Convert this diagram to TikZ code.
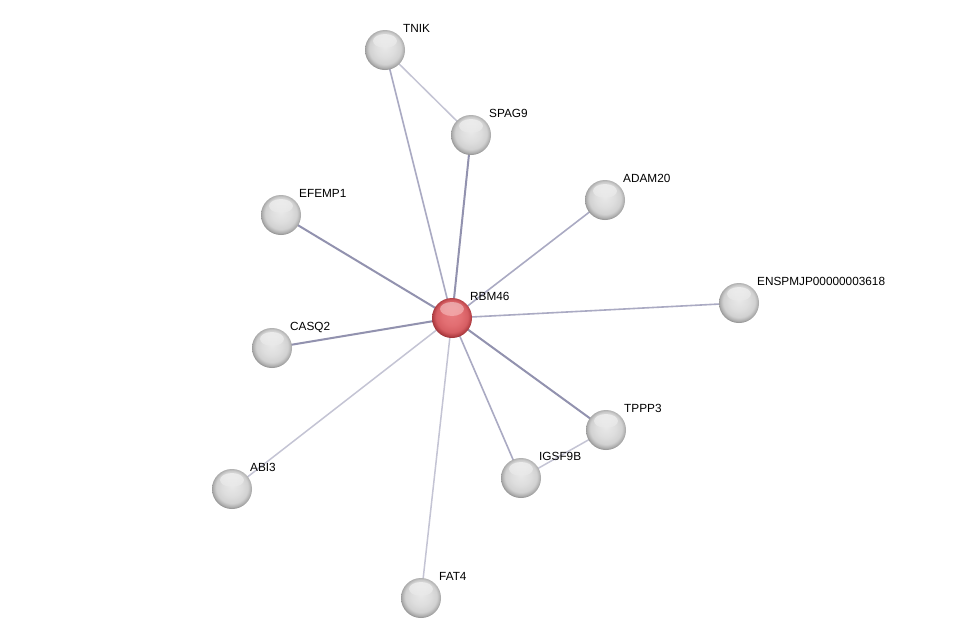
\documentclass[tikz,border=0pt]{standalone}
\usepackage{fontspec}
\setmainfont{Liberation Sans}
\usetikzlibrary{backgrounds}
\definecolor{edgedark}{RGB}{146,146,175}
\definecolor{edgemid}{RGB}{170,170,195}
\definecolor{edgelight}{RGB}{196,196,212}
\pgfdeclareradialshading{greyball}{\pgfpoint{0bp}{4bp}}{%
  color(0bp)=(black!9); color(12bp)=(black!13); color(20bp)=(black!18);
  color(24bp)=(black!32); color(28bp)=(black!55); color(40bp)=(black!55)}
\pgfdeclareradialshading{redball}{\pgfpoint{0bp}{4bp}}{%
  color(0bp)=(rgb,255:red,232;green,122;blue,126); color(12bp)=(rgb,255:red,226;green,110;blue,114);
  color(20bp)=(rgb,255:red,214;green,94;blue,99);
  color(24bp)=(rgb,255:red,180;green,64;blue,69); color(28bp)=(rgb,255:red,130;green,35;blue,40);
  color(40bp)=(rgb,255:red,130;green,35;blue,40)}
\begin{document}
\begin{tikzpicture}[x=1pt,y=-1pt,
  prot/.style={circle,minimum size=40pt,inner sep=0pt,shading=greyball,
    path picture={\shade[top color=white,bottom color=white!80!black,opacity=0.6]
      ([yshift=9pt]path picture bounding box.center) ellipse (12pt and 7pt);}},
  query/.style={circle,minimum size=40pt,inner sep=0pt,shading=redball,
    path picture={\shade[top color=white,bottom color=red!40,opacity=0.45]
      ([yshift=9pt]path picture bounding box.center) ellipse (12pt and 7pt);}},
  lbl/.style={anchor=base west,inner sep=0pt,font=\fontsize{11.8}{13}\selectfont},
  strong/.style={draw=edgedark,line width=2pt},
  mid/.style={draw=edgemid,line width=1.6pt},
  weak/.style={draw=edgelight,line width=1.5pt}]
\useasboundingbox (0,0) rectangle (975,643);
\node[query] (RBM46) at (452,318) {};
\node[prot] (TNIK) at (385,50) {};
\node[prot] (SPAG9) at (471,135) {};
\node[prot] (ADAM20) at (605,200) {};
\node[prot] (EFEMP1) at (281,215) {};
\node[prot] (ENSP) at (739,303) {};
\node[prot] (CASQ2) at (272,348) {};
\node[prot] (TPPP3) at (606,430) {};
\node[prot] (IGSF9B) at (521,478) {};
\node[prot] (ABI3) at (232,489) {};
\node[prot] (FAT4) at (421,598) {};
\node[lbl] (lRBM46) at (470,300) {RBM46};
\node[lbl] (lTNIK) at (403,32) {TNIK};
\node[lbl] (lSPAG9) at (489,117) {SPAG9};
\node[lbl] (lADAM20) at (623,182) {ADAM20};
\node[lbl] (lEFEMP1) at (299,197) {EFEMP1};
\node[lbl] (lENSP) at (757,285) {ENSPMJP00000003618};
\node[lbl] (lCASQ2) at (290,330) {CASQ2};
\node[lbl] (lTPPP3) at (624,412) {TPPP3};
\node[lbl] (lIGSF9B) at (539,460) {IGSF9B};
\node[lbl] (lABI3) at (250,471) {ABI3};
\node[lbl] (lFAT4) at (439,580) {FAT4};
\begin{scope}[on background layer]
\fill[white] (0,0) rectangle (975,643);
\draw[strong] (RBM46.center) -- (TPPP3.center);
\draw[strong] (RBM46.center) -- (SPAG9.center);
\draw[strong] (RBM46.center) -- (EFEMP1.center);
\draw[strong] (RBM46.center) -- (CASQ2.center);
\draw[mid] (RBM46.center) -- (IGSF9B.center);
\draw[mid] (RBM46.center) -- (TNIK.center);
\draw[mid] (RBM46.center) -- (ADAM20.center);
\draw[mid] (RBM46.center) -- (ENSP.center);
\draw[weak] (RBM46.center) -- (ABI3.center);
\draw[weak] (RBM46.center) -- (FAT4.center);
\draw[weak] (TNIK.center) -- (SPAG9.center);
\draw[weak] (TPPP3.center) -- (IGSF9B.center);
\end{scope}
\end{tikzpicture}
\end{document}
